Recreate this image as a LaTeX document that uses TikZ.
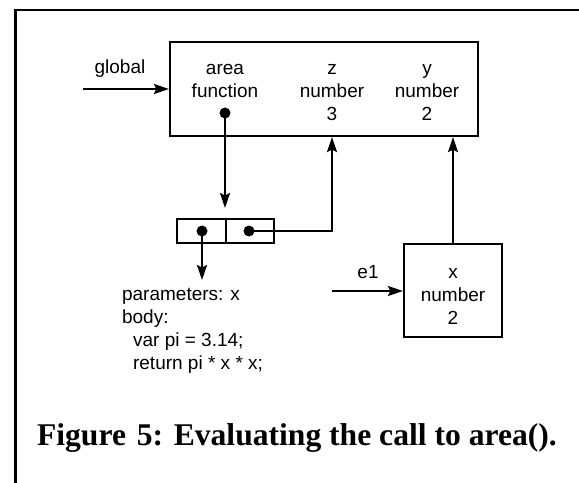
\documentclass[tikz,border=0pt]{standalone}
\usepackage{fontspec}
\setmainfont{Liberation Sans}
\newfontfamily\capfont{Liberation Serif}
\usetikzlibrary{arrows.meta}
\begin{document}
\begin{tikzpicture}[x=1bp,y=-1bp,
  line width=2.2bp,
  every node/.style={inner sep=0pt, font=\fontsize{19bp}{23bp}\selectfont},
  box/.style={draw, rectangle, line width=2.2bp, inner sep=0pt},
  lbl/.style={anchor=base},
  codeline/.style={anchor=base west},
  dotnode/.style={circle, fill, minimum size=11bp, inner sep=0pt},
  arr/.style={-{Stealth[length=15bp,width=10bp,inset=2.5bp]}}]
\useasboundingbox (0,0) rectangle (579,483);
% outer frame
\draw (579,10) -- (15.5,10) -- (15.5,483);

% global frame
\node[box, minimum width=308bp, minimum height=94bp] (main) at (324,89) {};
\node[lbl] (areaname) at (225,75) {area};
\node[lbl] (areatype) at (225,98) {function};
\node[dotnode] (dotA) at (225,113) {};
\node[lbl] (zname) at (332,75) {z};
\node[lbl] (ztype) at (332,98) {number};
\node[lbl] (zval) at (332,121) {3};
\node[lbl] (yname) at (427,75) {y};
\node[lbl] (ytype) at (427,98) {number};
\node[lbl] (yval) at (427,121) {2};

% global label and arrow
\node[lbl] (glabel) at (120,74) {global};
\coordinate (gstart) at (83,89);
\draw[arr] (gstart) -- (gstart -| main.west);

% closure cells
\node[box, minimum width=49bp, minimum height=24bp] (cellL) at (201.5,231) {};
\node[box, minimum width=48bp, minimum height=24bp] (cellR) at (250,231) {};
\node[dotnode] (dotL) at (202,231) {};
\node[dotnode] (dotR) at (249,231) {};
\coordinate (cellin) at (225,208);
\draw[arr] (dotA.center) -- (cellin);
\draw[arr] (dotR.center) -| (zname |- main.south);

% code text
\coordinate (codetop) at (202,280);
\draw[arr] (dotL.center) -- (codetop);
\node[codeline] (code1) at (121,300.5) {parameters: x};
\node[codeline] (code2) at (121,323.5) {body:};
\node[codeline] (code3) at (132,346.5) {var pi = 3.14;};
\node[codeline] (code4) at (132,369.5) {return pi * x * x;};

% local frame e1
\node[box, minimum width=98bp, minimum height=93bp] (xbox) at (453,290.5) {};
\node[lbl] (xname) at (453,278) {x};
\node[lbl] (xtype) at (453,301) {number};
\node[lbl] (xval) at (453,324) {2};
\draw[arr] (xbox.north) -- (xbox.north |- main.south);
\node[lbl] (e1label) at (368,278.5) {e1};
\coordinate (e1start) at (332,291);
\draw[arr] (e1start) -- (e1start -| xbox.west);

% caption
\node[anchor=base west, font=\capfont\bfseries\fontsize{31.6bp}{36bp}\selectfont] (caption) at (36,445) {Figure\hspace{3bp} 5: Evaluating the call to area().};
\end{tikzpicture}
\end{document}
